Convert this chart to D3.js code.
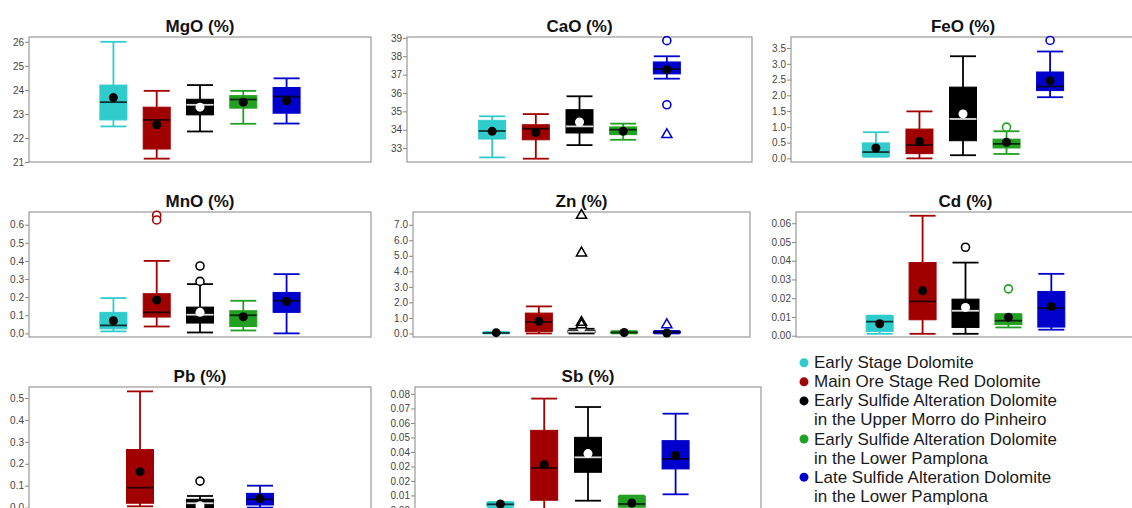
<!DOCTYPE html>
<html>
<head>
<meta charset="utf-8">
<script src="https://cdn.jsdelivr.net/npm/d3@7"></script>
<style>
  body { margin: 0; background: #fff; }
  svg { display: block; font-family: "Liberation Sans", Arial, sans-serif; }
</style>
</head>
<body>
<svg id="chart" width="1132" height="508"></svg>
<script>
// ---- groups ----
const groups = [
  "Early Stage Dolomite",
  "Main Ore Stage Red Dolomite",
  "Early Sulfide Alteration Dolomite in the Upper Morro do Pinheiro",
  "Early Sulfide Alteration Dolomite in the Lower Pamplona",
  "Late Sulfide Alteration Dolomite in the Lower Pamplona"
];
const legendLines = [
  ["Early Stage Dolomite"],
  ["Main Ore Stage Red Dolomite"],
  ["Early Sulfide Alteration Dolomite", "in the Upper Morro do Pinheiro"],
  ["Early Sulfide Alteration Dolomite", "in the Lower Pamplona"],
  ["Late Sulfide Alteration Dolomite", "in the Lower Pamplona"]
];
const groupColors = ["#30cccc", "#a00000", "#000000", "#22a022", "#0000cc"];

// ---- box statistics: [lower whisker, Q1, median, Q3, upper whisker, mean] ----
const mgoStats = [
  [22.48, 22.75, 23.49, 24.20, 26.00, 23.68],
  [21.14, 21.54, 22.75, 23.28, 23.96, 22.55],
  [22.27, 22.96, 23.38, 23.61, 24.20, 23.28],
  [22.59, 23.24, 23.60, 23.76, 23.96, 23.49],
  [22.60, 23.03, 23.72, 24.10, 24.48, 23.55]
];
const caoStats = [
  [32.49, 33.49, 33.93, 34.51, 34.73, 33.91],
  [32.42, 33.45, 34.05, 34.27, 34.85, 33.85],
  [33.16, 33.82, 34.18, 35.09, 35.82, 34.42],
  [33.45, 33.73, 34.00, 34.15, 34.33, 33.91],
  [36.78, 37.04, 37.31, 37.69, 38.00, 37.27]
];
const feoStats = [
  [0.05, 0.06, 0.20, 0.49, 0.83, 0.33],
  [0.00, 0.15, 0.42, 0.93, 1.49, 0.54],
  [0.10, 0.56, 1.25, 2.26, 3.24, 1.41],
  [0.14, 0.33, 0.46, 0.61, 0.86, 0.51],
  [1.94, 2.15, 2.28, 2.74, 3.39, 2.46]
];
const mnoStats = [
  [0.011, 0.025, 0.044, 0.116, 0.195, 0.070],
  [0.038, 0.090, 0.116, 0.219, 0.400, 0.184],
  [0.005, 0.057, 0.103, 0.145, 0.272, 0.116],
  [0.016, 0.038, 0.100, 0.125, 0.180, 0.092],
  [0.000, 0.116, 0.180, 0.226, 0.327, 0.176]
];
const znStats = [
  [0.00, 0.01, 0.03, 0.06, 0.09, 0.05],
  [0.00, 0.13, 0.74, 1.31, 1.74, 0.78],
  [0.00, 0.05, 0.11, 0.20, 0.30, 0.39],
  [0.00, 0.03, 0.06, 0.10, 0.15, 0.06],
  [0.00, 0.02, 0.08, 0.13, 0.16, 0.03]
];
const cdStats = [
  [0.0010, 0.0023, 0.0075, 0.0107, 0.0107, 0.0064],
  [0.0010, 0.0085, 0.0183, 0.0390, 0.0640, 0.0240],
  [0.0010, 0.0044, 0.0133, 0.0195, 0.0390, 0.0151],
  [0.0044, 0.0059, 0.0080, 0.0115, 0.0115, 0.0098],
  [0.0032, 0.0046, 0.0147, 0.0236, 0.0330, 0.0156]
];
// Pb is reported for three groups only (red, black, blue)
const pbGroups = [1, 2, 4];
const pbStats = [
  [0.006, 0.020, 0.091, 0.265, 0.530, 0.164],
  [0.000, 0.001, 0.020, 0.038, 0.053, 0.008],
  [0.000, 0.012, 0.038, 0.065, 0.100, 0.041]
];
const sbStats = [
  [0.0015, 0.0025, 0.0039, 0.0053, 0.0055, 0.0041],
  [0.0000, 0.0067, 0.0290, 0.0549, 0.0768, 0.0313],
  [0.0064, 0.0260, 0.0363, 0.0501, 0.0710, 0.0389],
  [0.0010, 0.0020, 0.0041, 0.0094, 0.0099, 0.0048],
  [0.0108, 0.0283, 0.0352, 0.0478, 0.0664, 0.0377]
];

// ---- outliers: [group index, value, shape] ----
const caoOutliers = [[4, 38.85, "circle"], [4, 35.36, "circle"], [4, 33.73, "triangle"]];
const feoOutliers = [[3, 0.99, "circle"], [4, 3.74, "circle"]];
const mnoOutliers = [[1, 0.652, "circle"], [1, 0.626, "circle"], [2, 0.372, "circle"], [2, 0.287, "circle"]];
const znOutliers = [[2, 7.60, "triangle"], [2, 5.18, "triangle"], [2, 0.71, "triangle"], [2, 0.55, "triangle"], [4, 0.56, "triangle"]];
const cdOutliers = [[2, 0.0472, "circle"], [3, 0.0250, "circle"]];
const pbOutliers = [[2, 0.121, "circle"]];

// ---- axis extents and ticks ----
const mgoRange = [21, 26.2],     mgoTicks = [21, 22, 23, 24, 25, 26];
const caoRange = [32.24, 39.05], caoTicks = [33, 34, 35, 36, 37, 38, 39];
const feoRange = [-0.115, 3.85], feoTicks = [0, 0.5, 1, 1.5, 2, 2.5, 3, 3.5];
const mnoRange = [-0.02, 0.67],  mnoTicks = [0, 0.1, 0.2, 0.3, 0.4, 0.5, 0.6];
const znRange = [-0.23, 7.82],   znTicks = [0, 1, 2, 3, 4, 5, 6, 7];
const cdRange = [-0.0007, 0.066], cdTicks = [0, 0.01, 0.02, 0.03, 0.04, 0.05, 0.06];
const pbRange = [-0.02, 0.55],   pbTicks = [0, 0.1, 0.2, 0.3, 0.4, 0.5];
const sbRange = [-0.0014, 0.0848], sbTicks = [0, 0.01, 0.02, 0.03, 0.04, 0.05, 0.06, 0.07, 0.08];

const mgoLabels = ["21", "22", "23", "24", "25", "26"];
const caoLabels = ["33", "34", "35", "36", "37", "38", "39"];
const feoLabels = ["0.0", "0.5", "1.0", "1.5", "2.0", "2.5", "3.0", "3.5"];
const mnoLabels = ["0.0", "0.1", "0.2", "0.3", "0.4", "0.5", "0.6"];
const znLabels = ["0.0", "1.0", "2.0", "3.0", "4.0", "5.0", "6.0", "7.0"];
const cdLabels = ["0.00", "0.01", "0.02", "0.03", "0.04", "0.05", "0.06"];
const pbLabels = ["0.0", "0.1", "0.2", "0.3", "0.4", "0.5"];
const sbLabels = ["0.00", "0.01", "0.02", "0.02", "0.04", "0.05", "0.06", "0.07", "0.08"];

const allGroups = [0, 1, 2, 3, 4];

const panels = [
  { title: "MgO (%)", stats: mgoStats, groups: allGroups, outliers: [],          range: mgoRange, ticks: mgoTicks, labels: mgoLabels },
  { title: "CaO (%)", stats: caoStats, groups: allGroups, outliers: caoOutliers, range: caoRange, ticks: caoTicks, labels: caoLabels },
  { title: "FeO (%)", stats: feoStats, groups: allGroups, outliers: feoOutliers, range: feoRange, ticks: feoTicks, labels: feoLabels },
  { title: "MnO (%)", stats: mnoStats, groups: allGroups, outliers: mnoOutliers, range: mnoRange, ticks: mnoTicks, labels: mnoLabels },
  { title: "Zn (%)",  stats: znStats,  groups: allGroups, outliers: znOutliers,  range: znRange,  ticks: znTicks,  labels: znLabels },
  { title: "Cd (%)",  stats: cdStats,  groups: allGroups, outliers: cdOutliers,  range: cdRange,  ticks: cdTicks,  labels: cdLabels },
  { title: "Pb (%)",  stats: pbStats,  groups: pbGroups,  outliers: pbOutliers,  range: pbRange,  ticks: pbTicks,  labels: pbLabels },
  { title: "Sb (%)",  stats: sbStats,  groups: allGroups, outliers: [],          range: sbRange,  ticks: sbTicks,  labels: sbLabels }
];

// ---- layout: plot frames (left, right) per panel, rows of fixed height ----
const frames = [
  [29, 371], [407, 752], [791, 1135],
  [29, 371], [413, 750], [796, 1135],
  [29, 371], [415, 761]
];
const rowTop = [37, 212, 387];
const frameH = 125;
const boxW = 27, capW = 26;

const svg = d3.select("#chart");

panels.forEach((p, k) => {
  const [left, right] = frames[k];
  const top = rowTop[Math.floor(k / 3)];
  const g = svg.append("g");

  const y = d3.scaleLinear().domain(p.range).range([top + frameH, top]);
  const x = d3.scalePoint()
    .domain(p.groups)
    .range([left, right])
    .padding(p.groups.length === 5 ? 1.95 : 1.85);

  // frame
  g.append("rect")
    .attr("x", left).attr("y", top)
    .attr("width", right - left).attr("height", frameH)
    .attr("fill", "none").attr("stroke", "#999").attr("stroke-width", 1.2);

  // title
  g.append("text")
    .attr("x", (left + right) / 2).attr("y", top - 5)
    .attr("text-anchor", "middle")
    .attr("font-size", 17).attr("font-weight", "bold").attr("fill", "#111")
    .text(p.title);

  // y axis
  const ax = g.append("g")
    .attr("transform", `translate(${left},0)`)
    .call(d3.axisLeft(y).tickValues(p.ticks)
      .tickFormat((d, i) => p.labels[i])
      .tickSize(4).tickPadding(1));
  ax.select(".domain").remove();
  ax.selectAll(".tick line").attr("stroke", "#888");
  ax.selectAll(".tick text").attr("fill", "#444").attr("font-size", 10)
    .attr("font-family", "\"Liberation Sans\", Arial, sans-serif");

  // boxes
  p.groups.forEach((gi, j) => {
    const [lo, q1, med, q3, hi, mean] = p.stats[j];
    const col = groupColors[gi];
    const cx = x(gi);
    const isBlack = gi === 2;

    g.append("line")
      .attr("x1", cx).attr("x2", cx).attr("y1", y(lo)).attr("y2", y(hi))
      .attr("stroke", col).attr("stroke-width", 1.8);
    [lo, hi].forEach(v => {
      g.append("line")
        .attr("x1", cx - capW / 2).attr("x2", cx + capW / 2)
        .attr("y1", y(v)).attr("y2", y(v))
        .attr("stroke", col).attr("stroke-width", 1.8);
    });
    g.append("rect")
      .attr("x", cx - boxW / 2).attr("y", y(q3))
      .attr("width", boxW).attr("height", Math.max(1, y(q1) - y(q3)))
      .attr("fill", col).attr("stroke", col).attr("stroke-width", 1);
    g.append("line")
      .attr("x1", cx - boxW / 2).attr("x2", cx + boxW / 2)
      .attr("y1", y(med)).attr("y2", y(med))
      .attr("stroke", isBlack ? "#dcdcdc" : "rgba(0,0,0,0.75)")
      .attr("stroke-width", 1.8);
    g.append("circle")
      .attr("cx", cx).attr("cy", y(mean)).attr("r", 4.5)
      .attr("fill", isBlack ? "#fff" : "#000");
  });

  // outliers
  p.outliers.forEach(([gi, v, shape]) => {
    const col = groupColors[gi];
    const cx = x(gi);
    if (shape === "circle") {
      g.append("circle")
        .attr("cx", cx).attr("cy", y(v)).attr("r", 4)
        .attr("fill", "#fff").attr("stroke", col).attr("stroke-width", 1.6);
    } else {
      g.append("path")
        .attr("d", d3.symbol(d3.symbolTriangle, 45)())
        .attr("transform", `translate(${cx},${y(v)})`)
        .attr("fill", "none").attr("stroke", col).attr("stroke-width", 1.5);
    }
  });
});

// ---- legend ----
const legendX = 804, legendTop = 368.3, lineH = 19.06;
let line = 0;
const lg = svg.append("g");
legendLines.forEach((lines, i) => {
  const base = legendTop + line * lineH;
  lg.append("circle")
    .attr("cx", legendX).attr("cy", base - 5.5).attr("r", 4.5)
    .attr("fill", groupColors[i]);
  lines.forEach((t, m) => {
    lg.append("text")
      .attr("x", legendX + 10).attr("y", base + m * lineH)
      .attr("font-size", 17).attr("fill", "#1a1a1a")
      .text(t);
  });
  line += lines.length;
});
</script>
</body>
</html>
